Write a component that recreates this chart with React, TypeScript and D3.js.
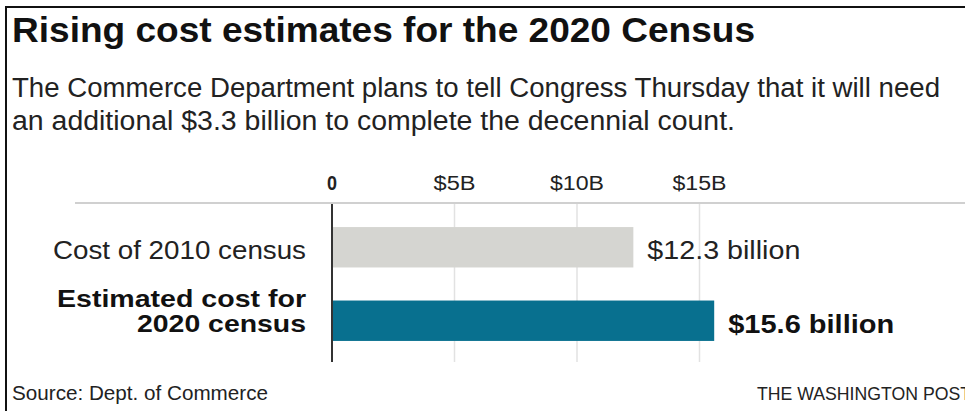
import React from "react";
import * as d3 from "d3";

const categories = ["Cost of 2010 census", "Estimated cost for 2020 census"];
const categoryLines = [["Cost of 2010 census"], ["Estimated cost for", "2020 census"]];
const values = [12.3, 15.6];
const valueLabels = ["$12.3 billion", "$15.6 billion"];
const tickValues = [0, 5, 10, 15];
const tickLabels = ["0", "$5B", "$10B", "$15B"];
const barColors = ["#d5d5d1", "#08708f"];
const highlighted = [false, true];

const title = "Rising cost estimates for the 2020 Census";
const subtitleLines = [
  "The Commerce Department plans to tell Congress Thursday that it will need",
  "an additional $3.3 billion to complete the decennial count.",
];
const source = "Source: Dept. of Commerce";
const credit = "THE WASHINGTON POST";

const W = 965;
const H = 411;
const NARROW = '"Liberation Sans Narrow", "Liberation Sans", Arial, sans-serif';
const BODY = '"Liberation Sans", Arial, sans-serif';

export default function App() {
  const x = d3.scaleLinear().domain([0, 15]).range([332, 332 + 15 * 24.5]);
  const y = d3
    .scaleBand<string>()
    .domain(categories)
    .range([194, 374])
    .paddingInner(0.45)
    .paddingOuter(0.45);
  const catWidths = [[253], [249, 169]];
  const valWidths = [153, 166];
  const tickWidths = [10, 42, 54, 54];

  return (
    <svg
      width={W}
      height={H}
      viewBox={`0 0 ${W} ${H}`}
      style={{ position: "absolute", left: 0, top: 0, background: "#fff" }}
    >
      <rect x={0} y={0} width={W} height={H} fill="#fff" />
      {/* frame */}
      <rect x={5} y={6} width={W - 5} height={2} fill="#111" />
      <rect x={5} y={6} width={2} height={H - 6} fill="#111" />

      <text
        x={12}
        y={42}
        fontFamily={NARROW}
        fontWeight="bold"
        fontSize={35}
        fill="#111"
        textLength={743}
        lengthAdjust="spacingAndGlyphs"
      >
        {title}
      </text>
      {subtitleLines.map((t, i) => (
        <text
          key={i}
          x={12}
          y={97 + i * 33}
          fontFamily={NARROW}
          fontSize={27}
          fill="#222"
          textLength={i === 0 ? 928 : 723}
          lengthAdjust="spacingAndGlyphs"
        >
          {t}
        </text>
      ))}

      {/* tick labels */}
      {tickValues.map((v, i) => (
        <text
          key={v}
          x={x(v)}
          y={190}
          textAnchor="middle"
          fontFamily={BODY}
          fontSize={20}
          fontWeight={i === 0 ? "bold" : "normal"}
          fill="#222"
          textLength={tickWidths[i]}
          lengthAdjust="spacingAndGlyphs"
        >
          {tickLabels[i]}
        </text>
      ))}
      <line x1={75} x2={W} y1={203} y2={203} stroke="#d0d0d0" strokeWidth={2} />

      {/* gridlines */}
      {tickValues.slice(1).map((v) => (
        <line key={v} x1={x(v)} x2={x(v)} y1={204} y2={362} stroke="#e2e2e2" strokeWidth={1.5} />
      ))}

      {/* bars */}
      {categories.map((c, i) => (
        <rect
          key={c}
          x={x(0)}
          y={y(c)}
          width={x(values[i]) - x(0)}
          height={y.bandwidth()}
          fill={barColors[i]}
        />
      ))}
      <line x1={x(0)} x2={x(0)} y1={204} y2={362} stroke="#333" strokeWidth={2} />

      {/* category labels */}
      {categories.map((c, i) => {
        const lines = categoryLines[i];
        const center = (y(c) as number) + y.bandwidth() / 2;
        const startBase = center + 12 - (lines.length - 1) * 25.5;
        return lines.map((ln, j) => (
          <text
            key={c + j}
            x={306}
            y={startBase + j * 25}
            textAnchor="end"
            fontFamily={BODY}
            fontSize={highlighted[i] ? 24 : 25}
            fontWeight={highlighted[i] ? "bold" : "normal"}
            fill={highlighted[i] ? "#111" : "#222"}
            textLength={catWidths[i][j]}
            lengthAdjust="spacingAndGlyphs"
          >
            {ln}
          </text>
        ));
      })}

      {/* value labels */}
      {categories.map((c, i) => {
        const center = (y(c) as number) + y.bandwidth() / 2;
        return (
          <text
            key={c + "v"}
            x={x(values[i]) + 14}
            y={center + 12}
            fontFamily={BODY}
            fontSize={25}
            fontWeight={highlighted[i] ? "bold" : "normal"}
            fill={highlighted[i] ? "#111" : "#222"}
            textLength={valWidths[i]}
            lengthAdjust="spacingAndGlyphs"
          >
            {valueLabels[i]}
          </text>
        );
      })}

      <text
        x={12}
        y={400}
        fontFamily={NARROW}
        fontSize={21}
        fill="#222"
        textLength={256}
        lengthAdjust="spacingAndGlyphs"
      >
        {source}
      </text>
      <text
        x={757}
        y={400}
        fontFamily={NARROW}
        fontSize={18}
        fill="#222"
        textLength={214}
        lengthAdjust="spacingAndGlyphs"
      >
        {credit}
      </text>
    </svg>
  );
}
